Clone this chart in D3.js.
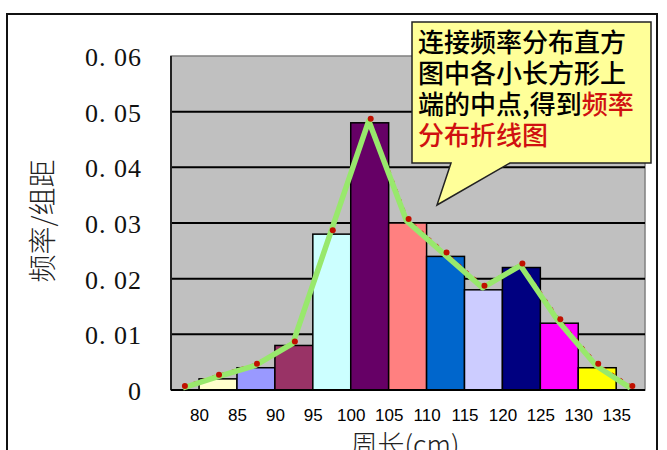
<!DOCTYPE html>
<html><head><meta charset="utf-8">
<script src="https://cdn.jsdelivr.net/npm/d3@7"></script>
<style>html,body{margin:0;padding:0;background:#fff;}svg{display:block;}</style>
</head><body>
<svg id="chart" width="667" height="450"></svg>
<script>
// ---- data ----
const xTickValues = [80, 85, 90, 95, 100, 105, 110, 115, 120, 125, 130, 135];
const binStarts = [80, 85, 90, 95, 100, 105, 110, 115, 120, 125, 130];
const binWidth = 5;
const density = [0.002, 0.004, 0.008, 0.028, 0.048, 0.030, 0.024, 0.018, 0.022, 0.012, 0.004];
const barColors = ["#FFFFCC", "#9999FF", "#993366", "#CCFFFF", "#660066", "#FF8080", "#0066CC", "#CCCCFF", "#000080", "#FF00FF", "#FFFF00"];
const polyX = [78, 82.5, 87.5, 92.5, 97.5, 102.5, 107.5, 112.5, 117.5, 122.5, 127.5, 132.5, 137];
const polyY = [0, 0.002, 0.004, 0.008, 0.028, 0.048, 0.030, 0.024, 0.018, 0.022, 0.012, 0.004, 0];
const yTickValues = [0, 0.01, 0.02, 0.03, 0.04, 0.05, 0.06];
const yTitle = "频率/组距";
const xTitle = "周长(cm)";
const calloutLines = [
  [["连接频率分布直方", "#000"]],
  [["图中各小长方形上", "#000"]],
  [["端的中点,得到", "#000"], ["频率", "#D01010"]],
  [["分布折线图", "#D01010"]]
];

// ---- layout ----
const svg = d3.select("#chart");
const plot = {left: 171, right: 645, top: 56, bottom: 390};
const x = d3.scaleLinear().domain([76.3, 138.8]).range([plot.left, plot.right]);
const y = d3.scaleLinear().domain([0, 0.06]).range([plot.bottom, plot.top]);

// outer frame
svg.append("rect").attr("x", 7).attr("y", 14).attr("width", 650).attr("height", 460)
  .attr("fill", "none").attr("stroke", "#111").attr("stroke-width", 2);

// plot background
svg.append("rect").attr("x", plot.left).attr("y", plot.top)
  .attr("width", plot.right - plot.left).attr("height", plot.bottom - plot.top)
  .attr("fill", "#C0C0C0").attr("stroke", "#808080").attr("stroke-width", 1.5);

// gridlines
svg.append("g").selectAll("line").data(yTickValues.filter(d => d > 0 && d < 0.06)).join("line")
  .attr("x1", plot.left).attr("x2", plot.right)
  .attr("y1", d => y(d)).attr("y2", d => y(d))
  .attr("stroke", "#000").attr("stroke-width", 2);

// left axis line
svg.append("line").attr("x1", plot.left).attr("x2", plot.left).attr("y1", plot.top).attr("y2", plot.bottom)
  .attr("stroke", "#222").attr("stroke-width", 2);

// bars
svg.append("g").selectAll("rect").data(binStarts).join("rect")
  .attr("x", d => x(d))
  .attr("width", d => x(d + binWidth) - x(d))
  .attr("y", (d, i) => y(density[i]))
  .attr("height", (d, i) => y(0) - y(density[i]))
  .attr("fill", (d, i) => barColors[i])
  .attr("stroke", "#000").attr("stroke-width", 1.5);

// bottom axis line
svg.append("line").attr("x1", plot.left).attr("x2", plot.right).attr("y1", plot.bottom).attr("y2", plot.bottom)
  .attr("stroke", "#000").attr("stroke-width", 2);

// x axis labels
const xAxis = d3.axisBottom(x).tickValues(xTickValues).tickSize(0).tickPadding(0).tickFormat(d3.format("d"));
const gx = svg.append("g").attr("transform", `translate(0,${plot.bottom})`).call(xAxis);
gx.select(".domain").remove();
gx.selectAll("text").attr("dy", null).attr("y", 31)
  .attr("font-family", "Liberation Sans, Arial, sans-serif").attr("font-size", 17).attr("fill", "#000");

// y axis labels
const yAxis = d3.axisLeft(y).tickValues(yTickValues).tickSize(0).tickPadding(0)
  .tickFormat(d => d === 0 ? "0" : d3.format(".2f")(d).replace(".", ". "));
const gy = svg.append("g").attr("transform", `translate(142,0)`).call(yAxis);
gy.select(".domain").remove();
gy.selectAll("text").attr("x", 0).attr("dy", "0.36em")
  .attr("font-family", "Liberation Serif, DejaVu Serif, serif").attr("font-size", 26)
  .attr("letter-spacing", 1).attr("fill", "#111").style("white-space", "pre");

// frequency polygon
const pts = polyX.map((v, i) => [v, polyY[i]]);
const line = d3.line().x(d => x(d[0])).y(d => y(d[1]));
svg.append("path").datum(pts).attr("d", line).attr("transform", "translate(0,-4)")
  .attr("fill", "none").attr("stroke", "#CC1100").attr("stroke-width", 2).attr("stroke-dasharray", "3,7");
svg.append("path").datum(pts).attr("d", line).attr("transform", "translate(-1,-2)")
  .attr("fill", "none").attr("stroke", "#98E86C").attr("stroke-width", 5.5).attr("stroke-linejoin", "round");
svg.append("g").attr("transform", "translate(1,-4)").selectAll("circle").data(pts).join("circle")
  .attr("cx", d => x(d[0])).attr("cy", d => y(d[1])).attr("r", 3).attr("fill", "#C01000");

// axis titles
svg.append("text").attr("transform", "translate(53,221) rotate(-90)").attr("text-anchor", "middle")
  .attr("font-family", "Noto Sans CJK SC, sans-serif").attr("font-weight", 300).attr("font-size", 28).attr("fill", "#222")
  .text(yTitle);
svg.append("text").attr("x", 405).attr("y", 455).attr("text-anchor", "middle")
  .attr("font-family", "Noto Sans CJK SC, sans-serif").attr("font-weight", 300).attr("font-size", 27).attr("fill", "#222")
  .text(xTitle);

// callout
const callout = svg.append("g");
callout.append("path")
  .attr("d", "M412,22 L651,22 L651,163 L510,163 L437,205 L451,163 L412,163 Z")
  .attr("fill", "#FFFF99").attr("stroke", "#222").attr("stroke-width", 1.5).attr("stroke-linejoin", "miter");
const baselines = [52, 83, 114, 145];
calloutLines.forEach((segs, i) => {
  const t = callout.append("text").attr("x", 418).attr("y", baselines[i])
    .attr("font-family", "Noto Sans CJK SC, sans-serif").attr("font-size", 26).attr("font-weight", 500);
  segs.forEach(s => t.append("tspan").attr("fill", s[1]).text(s[0]));
});
</script>
</body></html>
